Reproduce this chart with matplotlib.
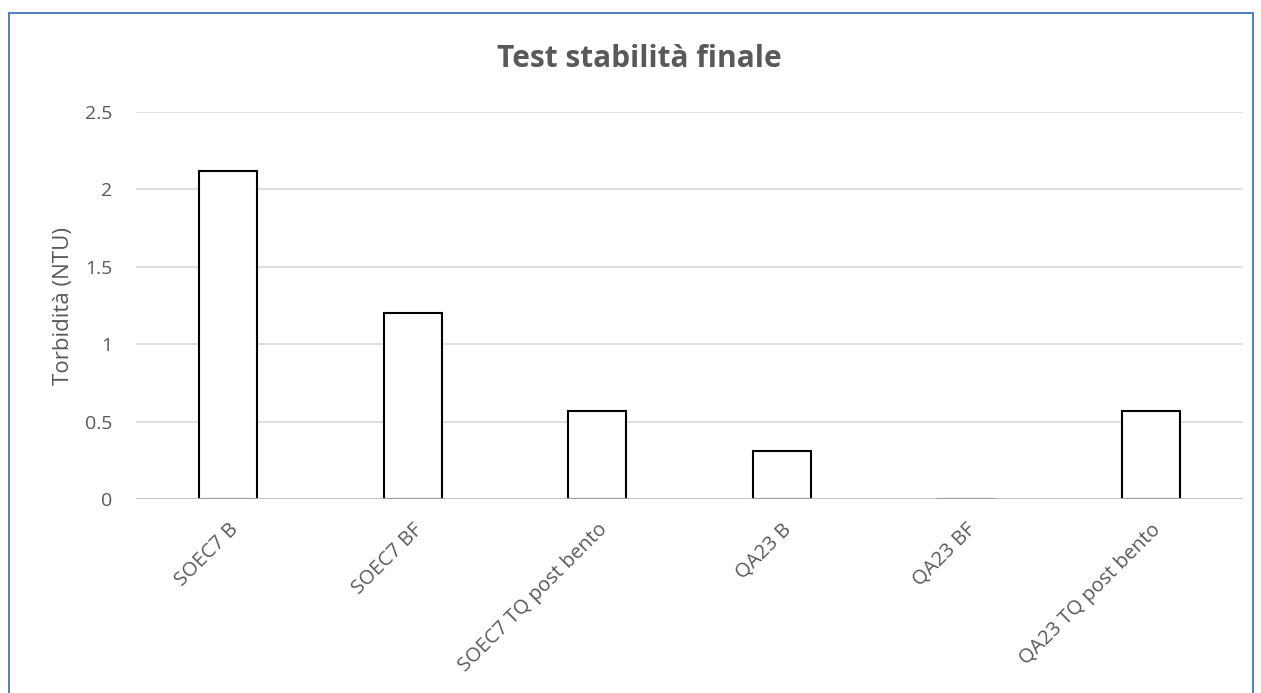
import matplotlib
matplotlib.use('Agg')
import matplotlib.pyplot as plt
from matplotlib.patches import Rectangle

plt.rcParams['font.family'] = ['Open Sans', 'DejaVu Sans']

# dati di torbidità finale
campioni = ['SOEC7 B', 'SOEC7 BF', 'SOEC7 TQ post bento',
            'QA23 B', 'QA23 BF', 'QA23 TQ post bento']
torbidita = [2.12, 1.2, 0.57, 0.31, 0.0, 0.57]
yticks = [0, 0.5, 1, 1.5, 2, 2.5]

testo = '#595959'
griglia = '#D9D9D9'

fig = plt.figure(figsize=(12.61, 6.93), dpi=100)
ax = fig.add_axes([0.1078, 0.2799, 0.8779, 0.5585])

x = range(len(campioni))
ax.bar(x, torbidita, width=0.315, facecolor='white', edgecolor='black',
       linewidth=1.5, zorder=2)
ax.axhline(0, color='#BFBFBF', linewidth=1.2, zorder=3)

ax.set_xlim(-0.5, len(campioni) - 0.5)
ax.set_ylim(0, 2.5)
ax.set_yticks(yticks)
ax.set_yticklabels([f'{v:g}' for v in yticks])
ax.set_xticks(list(x))
ax.set_xticklabels(campioni, rotation=45, ha='right', rotation_mode='anchor')
ax.tick_params(axis='y', length=0, pad=17, labelsize=14, labelcolor=testo)
ax.tick_params(axis='x', length=0, pad=15, labelsize=14.5, labelcolor=testo)
ax.yaxis.grid(True, color=griglia, linewidth=1.2, zorder=0)
ax.set_axisbelow(True)
for s in ax.spines.values():
    s.set_visible(False)

ax.set_ylabel('Torbidità (NTU)', fontsize=16, color=testo, labelpad=8)
fig.text(0.507, 0.915, 'Test stabilità finale', ha='center', va='center',
         fontsize=21.5, fontweight='bold', color=testo)

# bordo blu del riquadro
fig.patches.append(Rectangle((9 / 1261, -0.05), 1244 / 1261, 1 - 13 / 693 + 0.05,
                             transform=fig.transFigure, fill=False,
                             edgecolor='#4472C4', linewidth=1.3))

fig.savefig('out.png', dpi=100)
